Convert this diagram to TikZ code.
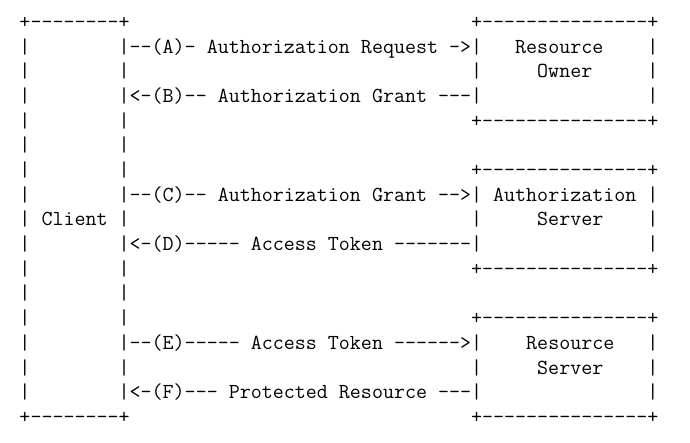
\documentclass[tikz,border=0pt]{standalone}
\begin{document}
\begin{tikzpicture}[x=1pt,y=-1pt,
  asciiline/.style={anchor=base west,inner sep=0pt,outer sep=0pt,
    font=\ttfamily\fontsize{21.39}{24}\selectfont,text=black}]
\useasboundingbox (0,0) rectangle (690,443);
\def\lx{19.5}
\def\by{28.4}
\def\dy{24.6875}
\node[asciiline] (r0)  at (\lx,{\by+\dy*0})  {+-{}-{}-{}-{}-{}-{}-{}-+~~~~~~~~~~~~~~~~~~~~~~~~~~~~~~~+-{}-{}-{}-{}-{}-{}-{}-{}-{}-{}-{}-{}-{}-{}-+};
\node[asciiline] (r1)  at (\lx,{\by+\dy*1})  {|~~~~~~~~|-{}-(A)-~Authorization~Request~->|~~~Resource~~~~|};
\node[asciiline] (r2)  at (\lx,{\by+\dy*2})  {|~~~~~~~~|~~~~~~~~~~~~~~~~~~~~~~~~~~~~~~~|~~~~~Owner~~~~~|};
\node[asciiline] (r3)  at (\lx,{\by+\dy*3})  {|~~~~~~~~|<-(B)-{}-~Authorization~Grant~-{}-{}-|~~~~~~~~~~~~~~~|};
\node[asciiline] (r4)  at (\lx,{\by+\dy*4})  {|~~~~~~~~|~~~~~~~~~~~~~~~~~~~~~~~~~~~~~~~+-{}-{}-{}-{}-{}-{}-{}-{}-{}-{}-{}-{}-{}-{}-+};
\node[asciiline] (r5)  at (\lx,{\by+\dy*5})  {|~~~~~~~~|};
\node[asciiline] (r6)  at (\lx,{\by+\dy*6})  {|~~~~~~~~|~~~~~~~~~~~~~~~~~~~~~~~~~~~~~~~+-{}-{}-{}-{}-{}-{}-{}-{}-{}-{}-{}-{}-{}-{}-+};
\node[asciiline] (r7)  at (\lx,{\by+\dy*7})  {|~~~~~~~~|-{}-(C)-{}-~Authorization~Grant~-{}->|~Authorization~|};
\node[asciiline] (r8)  at (\lx,{\by+\dy*8})  {|~Client~|~~~~~~~~~~~~~~~~~~~~~~~~~~~~~~~|~~~~~Server~~~~|};
\node[asciiline] (r9)  at (\lx,{\by+\dy*9})  {|~~~~~~~~|<-(D)-{}-{}-{}-{}-~Access~Token~-{}-{}-{}-{}-{}-{}-|~~~~~~~~~~~~~~~|};
\node[asciiline] (r10) at (\lx,{\by+\dy*10}) {|~~~~~~~~|~~~~~~~~~~~~~~~~~~~~~~~~~~~~~~~+-{}-{}-{}-{}-{}-{}-{}-{}-{}-{}-{}-{}-{}-{}-+};
\node[asciiline] (r11) at (\lx,{\by+\dy*11}) {|~~~~~~~~|};
\node[asciiline] (r12) at (\lx,{\by+\dy*12}) {|~~~~~~~~|~~~~~~~~~~~~~~~~~~~~~~~~~~~~~~~+-{}-{}-{}-{}-{}-{}-{}-{}-{}-{}-{}-{}-{}-{}-+};
\node[asciiline] (r13) at (\lx,{\by+\dy*13}) {|~~~~~~~~|-{}-(E)-{}-{}-{}-{}-~Access~Token~-{}-{}-{}-{}-{}->|~~~~Resource~~~|};
\node[asciiline] (r14) at (\lx,{\by+\dy*14}) {|~~~~~~~~|~~~~~~~~~~~~~~~~~~~~~~~~~~~~~~~|~~~~~Server~~~~|};
\node[asciiline] (r15) at (\lx,{\by+\dy*15}) {|~~~~~~~~|<-(F)-{}-{}-~Protected~Resource~-{}-{}-|~~~~~~~~~~~~~~~|};
\node[asciiline] (r16) at (\lx,{\by+\dy*16}) {+-{}-{}-{}-{}-{}-{}-{}-+~~~~~~~~~~~~~~~~~~~~~~~~~~~~~~~+-{}-{}-{}-{}-{}-{}-{}-{}-{}-{}-{}-{}-{}-{}-+};
\end{tikzpicture}
\end{document}
